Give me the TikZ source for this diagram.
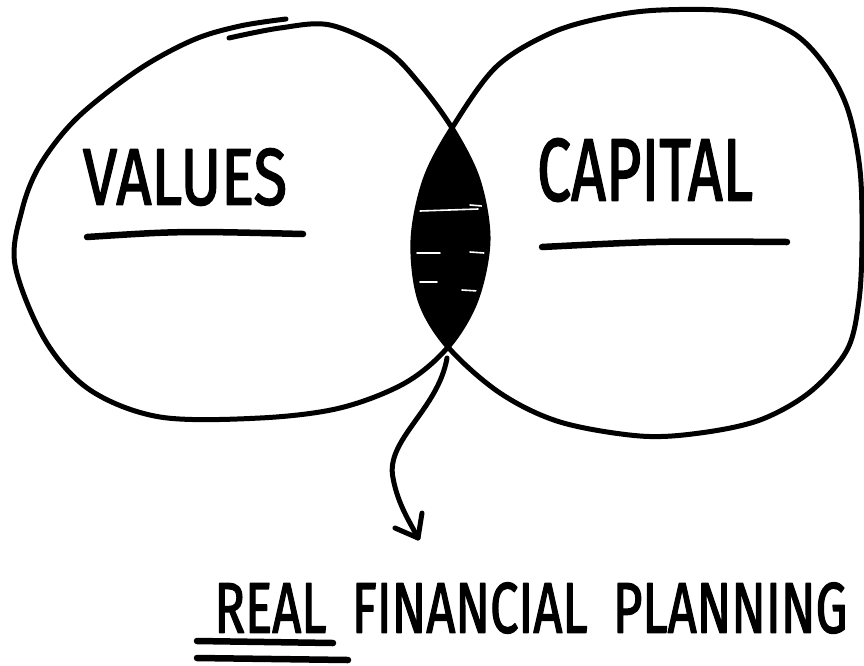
\documentclass[tikz,border=0pt]{standalone}
\usepackage{fontspec}
\setsansfont{Fira Sans}[FakeBold=2.2]
\begin{document}
\begin{tikzpicture}[x=1pt,y=-1pt, line cap=round, line join=round,
  pen/.style={draw=black, line width=5pt},
  bar/.style={draw=black, line width=6.5pt},
  lbl/.style={inner sep=0pt, font=\sffamily},
  streak/.style={draw=white, line width=1.6pt}]
\useasboundingbox (0,0) rectangle (864,665);
\def\leftclosed{plot[smooth cycle, tension=0.55] coordinates {(258,22) (330,25) (386,50) (419,83) (452,128) (478,180) (488,240) (476,300) (448,347) (405,383) (340,408) (260,418) (160,417) (90,390) (45,340) (15,265) (22,210) (40,165) (77,118) (138,70) (193,40)}}
\def\rightclosed{plot[smooth cycle, tension=0.55] coordinates {(661,10) (738,12) (793,33) (826,67) (848,110) (860,170) (862,240) (859,300) (847,350) (810,392) (760,420) (700,433) (640,436) (560,422) (500,393) (448,347) (420,300) (413,240) (425,180) (452,128) (496,67) (551,33) (606,17)}}
% lens
\begin{scope}
  \clip \rightclosed;
  \fill[black] \leftclosed;
  \draw[streak] (420,211) -- (478,209);
  \draw[streak] (470,205) -- (482,206);
  \draw[streak] (417,253) -- (440,253);
  \draw[streak] (470,252) -- (484,253);
  \draw[streak] (420,282) -- (437,282);
  \draw[streak] (462,290) -- (478,291);
\end{scope}
% circles
\draw[pen] plot[smooth, tension=0.55] coordinates {(229,38) (280,28) (330,25) (386,50) (419,83) (452,128) (478,180) (488,240) (476,300) (448,347) (405,383) (340,408) (260,418) (160,417) (90,390) (45,340) (15,265) (22,210) (40,165) (77,118) (138,70) (193,40) (240,26) (286,19)};
\draw[pen] \rightclosed;
% labels
\node[lbl] (values) at (185,177) {\resizebox{204pt}{56pt}{VALUES}};
\coordinate (vu1) at (87,237);
\coordinate (vu2) at (303,234);
\draw[bar] (vu1) .. controls (180,231) .. (vu2);
\node[lbl] (capital) at (645,170) {\resizebox{216pt}{62pt}{CAPITAL}};
\coordinate (cu1) at (542,247);
\coordinate (cu2) at (787,242);
\draw[bar] (cu1) .. controls (660,241) .. (cu2);
% arrow
\coordinate (a0) at (447,358);
\coordinate (a1) at (418,538);
\draw[pen] (a0) .. controls (438,410) and (385,440) .. (393,478) .. controls (398,505) and (410,522) .. (a1);
\draw[pen] (395,528) -- (a1) -- (422,513);
% bottom text
\node[lbl] (rfp) at (531,608) {\resizebox{633pt}{50pt}{REAL\hspace{0.5em}FINANCIAL\hspace{0.5em}PLANNING}};
\coordinate (r1) at (197,641);
\coordinate (r2) at (333,643);
\coordinate (r3) at (197,658);
\coordinate (r4) at (348,660);
\draw[bar] (r1) -- (r2);
\draw[bar] (r3) -- (r4);
\end{tikzpicture}
\end{document}
